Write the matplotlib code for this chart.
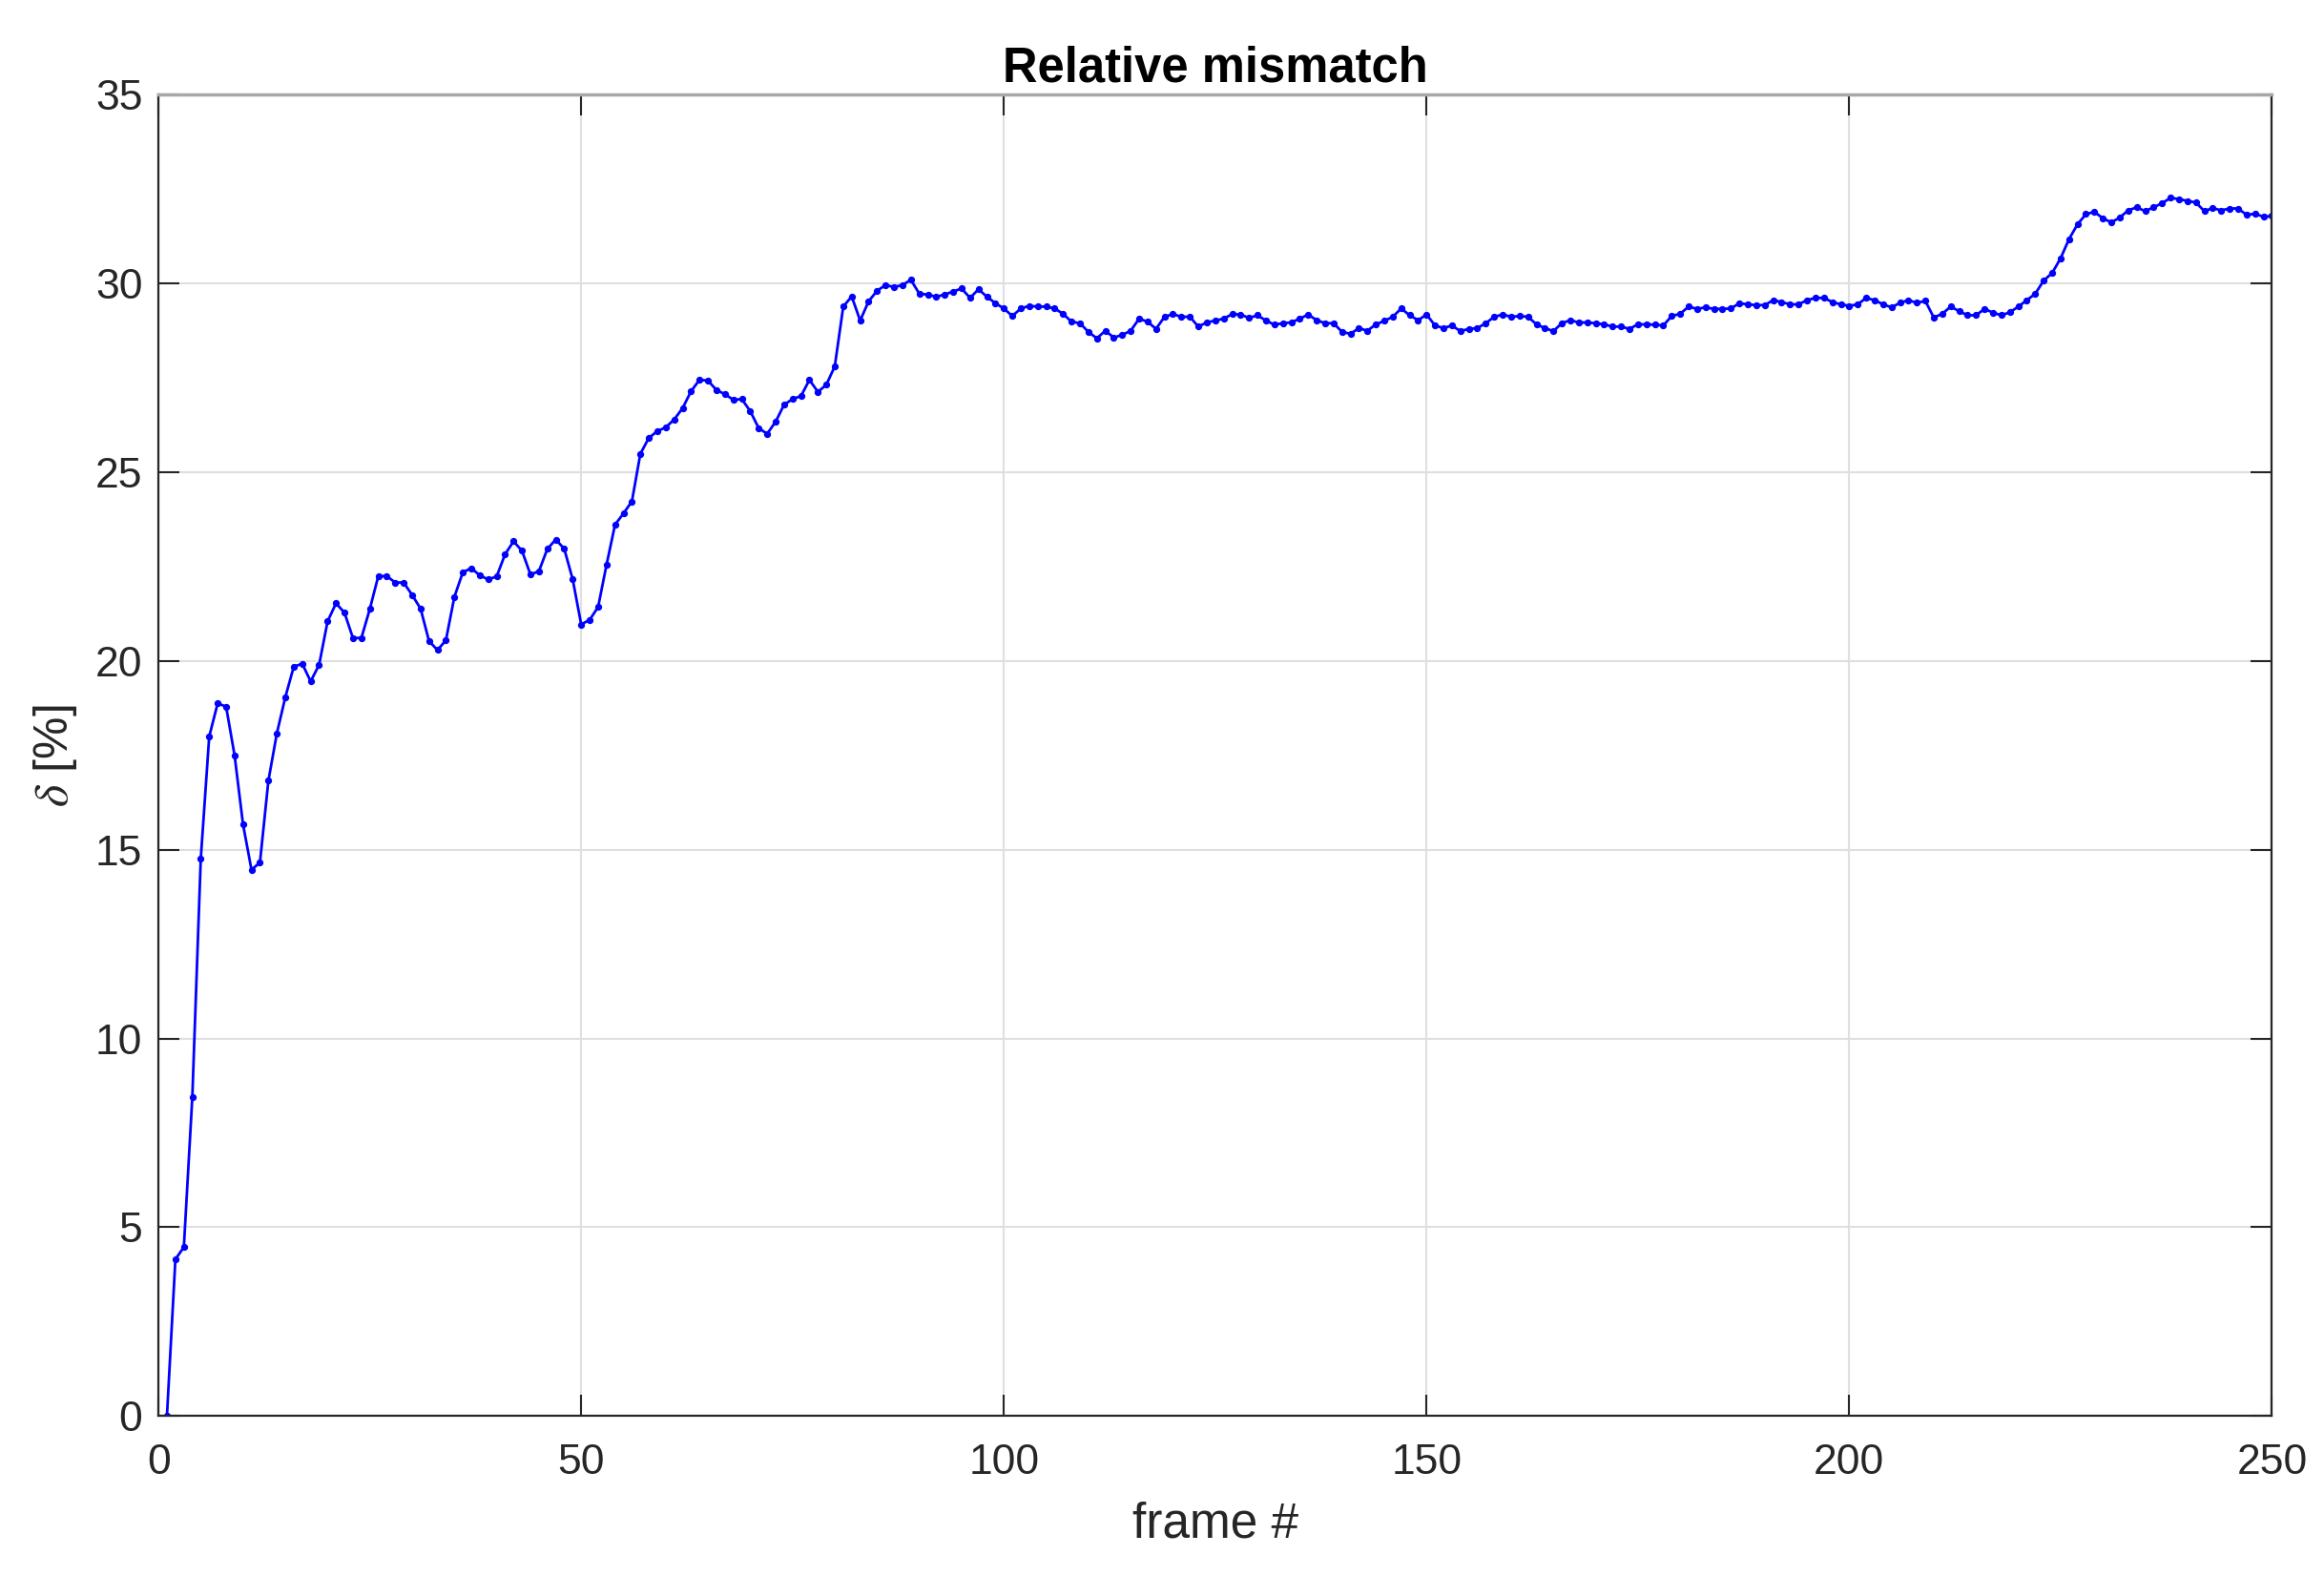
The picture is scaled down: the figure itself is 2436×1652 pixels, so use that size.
import matplotlib
matplotlib.use('Agg')
import matplotlib.pyplot as plt
import numpy as np

# relative mismatch per frame
delta = [
    0.00, 4.15, 4.47, 8.44, 14.76, 18.00, 18.88, 18.79, 17.50, 15.67,
    14.47, 14.66, 16.83, 18.08, 19.04, 19.85, 19.93, 19.46, 19.90, 21.05,
    21.53, 21.28, 20.61, 20.61, 21.38, 22.25, 22.25, 22.08, 22.08, 21.75,
    21.39, 20.53, 20.29, 20.55, 21.70, 22.35, 22.46, 22.27, 22.16, 22.24,
    22.83, 23.17, 22.92, 22.29, 22.38, 22.97, 23.22, 22.97, 22.16, 20.97,
    21.09, 21.43, 22.55, 23.61, 23.91, 24.23, 25.49, 25.91, 26.09, 26.19,
    26.40, 26.70, 27.15, 27.45, 27.43, 27.18, 27.07, 26.92, 26.94, 26.62,
    26.17, 26.02, 26.34, 26.79, 26.94, 27.02, 27.45, 27.13, 27.32, 27.81,
    29.39, 29.66, 29.02, 29.53, 29.81, 29.96, 29.91, 29.96, 30.10, 29.73,
    29.71, 29.65, 29.71, 29.79, 29.87, 29.62, 29.85, 29.65, 29.48, 29.34,
    29.14, 29.34, 29.41, 29.39, 29.39, 29.34, 29.20, 28.99, 28.95, 28.72,
    28.55, 28.75, 28.57, 28.64, 28.75, 29.07, 28.99, 28.80, 29.12, 29.19,
    29.12, 29.12, 28.86, 28.97, 29.02, 29.07, 29.19, 29.18, 29.09, 29.16,
    29.02, 28.91, 28.95, 28.97, 29.07, 29.18, 29.03, 28.95, 28.95, 28.72,
    28.67, 28.82, 28.75, 28.92, 29.01, 29.12, 29.34, 29.16, 29.03, 29.18,
    28.89, 28.82, 28.89, 28.74, 28.80, 28.82, 28.95, 29.12, 29.18, 29.12,
    29.14, 29.12, 28.92, 28.82, 28.74, 28.95, 29.03, 28.97, 28.97, 28.95,
    28.92, 28.86, 28.86, 28.80, 28.92, 28.92, 28.91, 28.89, 29.14, 29.20,
    29.39, 29.33, 29.37, 29.33, 29.33, 29.34, 29.48, 29.45, 29.43, 29.43,
    29.56, 29.51, 29.45, 29.45, 29.56, 29.62, 29.62, 29.51, 29.45, 29.41,
    29.45, 29.62, 29.56, 29.45, 29.37, 29.49, 29.56, 29.49, 29.54, 29.10,
    29.20, 29.39, 29.27, 29.16, 29.16, 29.33, 29.23, 29.16, 29.24, 29.39,
    29.56, 29.73, 30.08, 30.28, 30.67, 31.18, 31.57, 31.84, 31.90, 31.73,
    31.62, 31.75, 31.94, 32.02, 31.92, 32.02, 32.13, 32.27, 32.24, 32.19,
    32.15, 31.92, 32.00, 31.94, 31.99, 31.99, 31.82, 31.85, 31.77, 31.79,
]
frames = np.arange(1, len(delta) + 1)

xticks = [0, 50, 100, 150, 200, 250]
yticks = [0, 5, 10, 15, 20, 25, 30, 35]

plt.rcParams['font.family'] = ['Liberation Sans', 'DejaVu Sans']
plt.rcParams['mathtext.fontset'] = 'stix'

fig = plt.figure(figsize=(24.36, 16.52), dpi=100)
ax = fig.add_axes([0.0682, 0.1016, 0.9094, 0.8382])

ax.plot(frames, delta, color='#0000ff', linewidth=2.0, marker='.', markersize=8.5)

ax.set_xlim(0, 250)
ax.set_ylim(0, 35)
ax.set_xticks(xticks)
ax.set_yticks(yticks)
ax.grid(True, color='#dfdfdf', linewidth=1.5)
ax.set_axisbelow(True)

for side in ['left', 'bottom', 'right']:
    ax.spines[side].set_color('#262626')
    ax.spines[side].set_linewidth(1.6)
ax.spines['top'].set_color('#a8a8a8')
ax.spines['top'].set_linewidth(2.5)

ax.tick_params(direction='in', length=16, width=1.5, color='#262626',
               top=True, right=True, labelsize=32, labelcolor='#262626')
ax.tick_params(axis='x', pad=21)
ax.tick_params(axis='y', pad=12)

ax.set_title('Relative mismatch', fontsize=36.5, fontweight='bold', pad=10)
ax.set_xlabel('frame #', fontsize=37, color='#262626', labelpad=14)
ax.set_ylabel('$\\delta$ [%]', fontsize=36, color='#262626', labelpad=12)

plt.savefig('out.png', dpi=100, facecolor='white')
